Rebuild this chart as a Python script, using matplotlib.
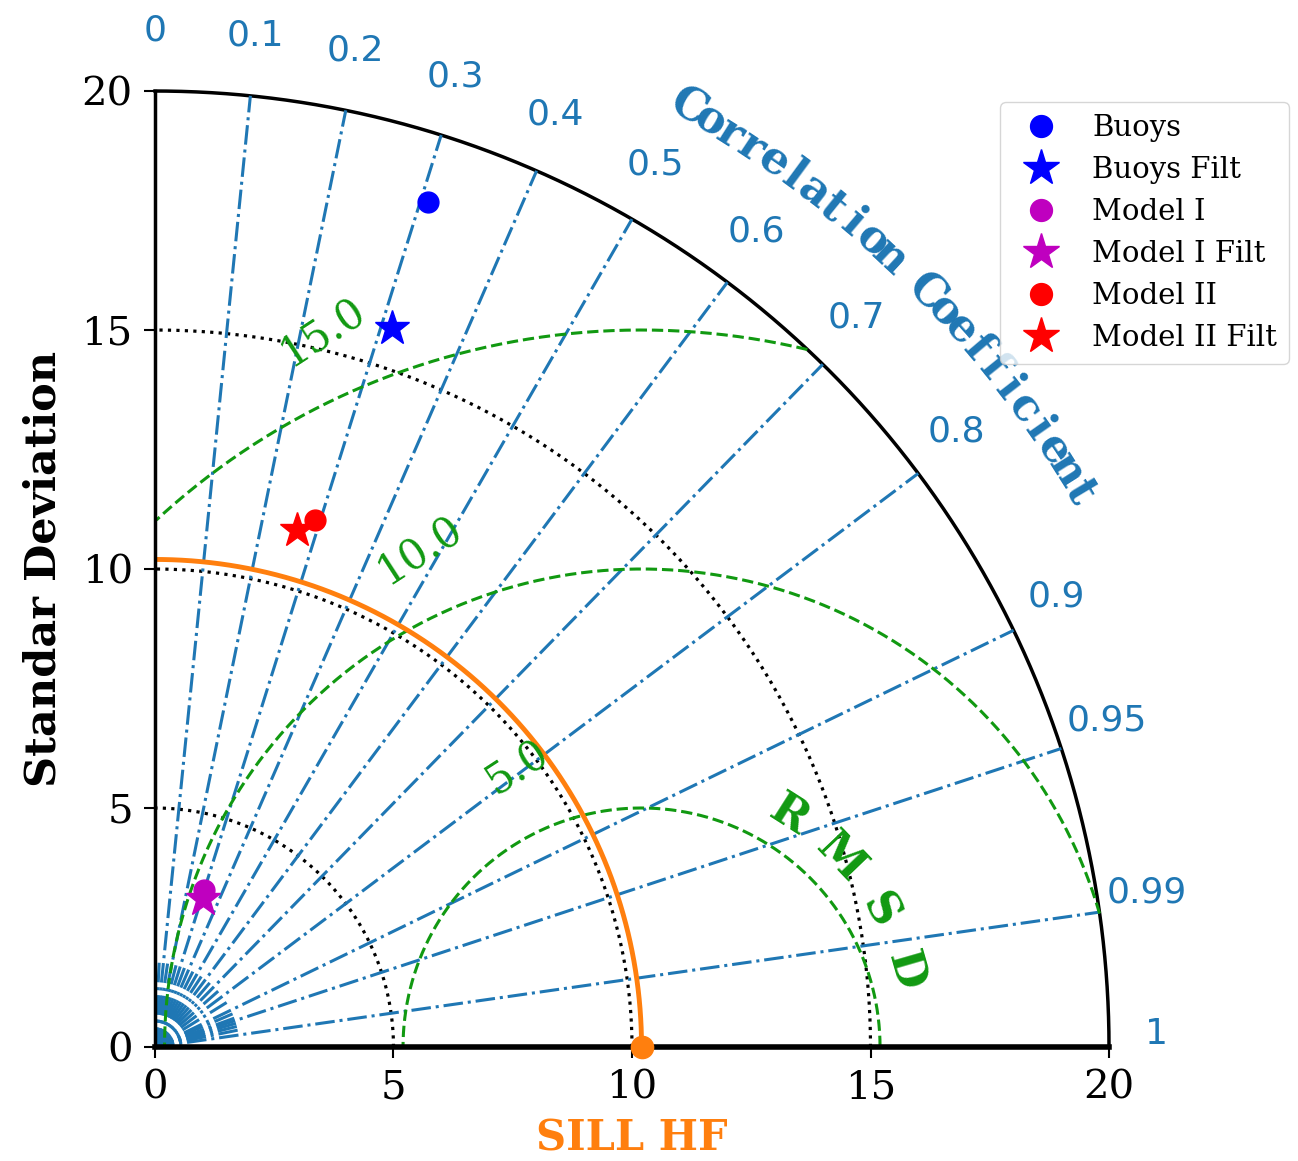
import numpy as np
import matplotlib
matplotlib.use('Agg')
import matplotlib.pyplot as plt

plt.rcParams['font.family'] = 'DejaVu Serif'

# Taylor diagram data
labels = ['Buoys', 'Buoys Filt', 'Model I', 'Model I Filt', 'Model II', 'Model II Filt']
sdev = [18.58, 15.84, 3.44, 3.26, 11.53, 11.22]
ccoef = [0.308, 0.314, 0.299, 0.309, 0.291, 0.266]
colors = ['blue', 'blue', 'm', 'm', 'red', 'red']
markers = ['o', '*', 'o', '*', 'o', '*']
ref_sdev = 10.2

std_ticks = [5, 10, 15]
rms_ticks = [5, 10, 15]
rms_labels = ['5.0', '10.0', '15.0']
cor_ticks = [0.1, 0.2, 0.3, 0.4, 0.5, 0.6, 0.7, 0.8, 0.9, 0.95, 0.99]
cor_label_vals = [0, 0.1, 0.2, 0.3, 0.4, 0.5, 0.6, 0.7, 0.8, 0.9, 0.95, 0.99, 1]
cor_label_txt = ['0', '0.1', '0.2', '0.3', '0.4', '0.5', '0.6', '0.7', '0.8', '0.9', '0.95', '0.99', '1']
cor_minor = [0.05, 0.15, 0.25, 0.35, 0.45, 0.55, 0.65, 0.75, 0.85, 0.92, 0.94, 0.96, 0.97, 0.98]
rmax = 20

green = '#119911'

fig = plt.figure(figsize=(12.98, 11.61), dpi=100)
ax = fig.add_axes([0.1194, 0.0982, 0.735, 0.8234])
ax.set_xlim(0, rmax)
ax.set_ylim(0, rmax)

th = np.linspace(0, np.pi / 2, 400)

# std dev arcs
for r in std_ticks:
    ax.plot(r * np.cos(th), r * np.sin(th), ':', color='k', lw=2.3)
ax.plot(rmax * np.cos(th), rmax * np.sin(th), '-', color='k', lw=2.5, clip_on=False)

# correlation lines
for c in cor_ticks:
    a = np.arccos(c)
    ax.plot([0, rmax * np.cos(a)], [0, rmax * np.sin(a)], '-.', color='C0', lw=2.2)
for c in cor_minor:
    a = np.arccos(c)
    ax.plot([0, 1.8 * np.cos(a)], [0, 1.8 * np.sin(a)], '-.', color='C0', lw=2.2)
for c, t in zip(cor_label_vals, cor_label_txt):
    a = np.arccos(c)
    ax.text(21.0 * np.cos(a), 21.0 * np.sin(a) + 0.27, t, ha='center', va='center',
            fontsize=26, color='C0', family='DejaVu Sans', clip_on=False)

# curved axis title for correlation
title = 'Correlation Coefficient'
for i, ch in enumerate(title):
    a = np.deg2rad(60.4 - i * 1.34)
    ax.text(22.6 * np.cos(a), 22.6 * np.sin(a), ch, rotation=np.rad2deg(a) - 90,
            ha='center', va='center', fontsize=32, fontweight='bold', color='C0',
            clip_on=False)

# RMSD contours
phi = np.linspace(0, np.pi, 800)
for r in rms_ticks:
    x = ref_sdev + r * np.cos(phi)
    y = r * np.sin(phi)
    bad = (x ** 2 + y ** 2 > rmax ** 2) | (x < 0)
    x[bad] = np.nan
    y[bad] = np.nan
    ax.plot(x, y, '--', color=green, lw=2.2)
lab_ang = np.deg2rad(114)
for r, t in zip(rms_ticks, rms_labels):
    ax.text(ref_sdev + (r + 1.4) * np.cos(lab_ang), (r + 1.4) * np.sin(lab_ang), t,
            rotation=33, ha='center', va='center', fontsize=30, color=green)
for i, ch in enumerate('RMSD'):
    a = np.deg2rad(57.5 - i * 13.8)
    ax.text(ref_sdev + 5.75 * np.cos(a), 5.75 * np.sin(a), ch, rotation=np.rad2deg(a) - 90,
            ha='center', va='center', fontsize=32, fontweight='bold', color=green)

# reference
ax.plot(ref_sdev * np.cos(th), ref_sdev * np.sin(th), '-', color='C1', lw=3.5)
ax.plot(ref_sdev, 0, 'o', color='C1', ms=16, clip_on=False, zorder=5)

# models
for s, c, col, m, lab in zip(sdev, ccoef, colors, markers, labels):
    a = np.arccos(c)
    ax.plot(s * np.cos(a), s * np.sin(a), marker=m, color=col, linestyle='none',
            ms=26 if m == '*' else 15, label=lab, zorder=6)

fig.legend(loc='upper left', bbox_to_anchor=(0.7595, 0.9245), fontsize=21,
           handletextpad=0.75, borderpad=0.4, labelspacing=0.48, markerscale=1.05)

for s in ['top', 'right']:
    ax.spines[s].set_visible(False)
ax.spines['left'].set_linewidth(2.5)
ax.spines['bottom'].set_linewidth(4)
ax.set_xticks([0, 5, 10, 15, 20])
ax.set_yticks([0, 5, 10, 15, 20])
ax.tick_params(labelsize=29, length=8, width=1.5, pad=8)
ax.set_ylabel('Standar Deviation', fontsize=31, fontweight='bold', labelpad=12)
ax.set_xlabel('SILL HF', fontsize=30, fontweight='bold', color='C1', labelpad=8)

fig.savefig('out.png', dpi=100)
